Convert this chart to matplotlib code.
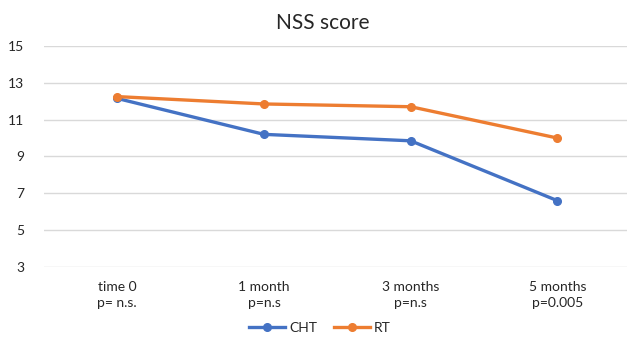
import matplotlib.pyplot as plt

# NSS score over follow-up, two treatment arms
timepoints = ['time 0\np= n.s.', '1 month\np=n.s', '3 months\np=n.s', '5 months\np=0.005']
cht = [12.15, 10.2, 9.85, 6.6]
rt = [12.25, 11.85, 11.7, 10.0]
yticks = [3, 5, 7, 9, 11, 13, 15]

blue = '#4472C4'
orange = '#ED7D31'
text_color = '#262626'

plt.rcParams['font.family'] = ['Lato', 'DejaVu Sans']

fig = plt.figure(figsize=(6.27, 3.52), dpi=100)
ax = fig.add_axes([0.07, 0.2415, 0.936, 0.628])

x = range(len(timepoints))
ax.plot(x, cht, color=blue, lw=2.4, marker='o', ms=5.5, label='CHT', zorder=3)
ax.plot(x, rt, color=orange, lw=2.4, marker='o', ms=5.5, label='RT', zorder=3)

ax.set_xlim(-0.5, len(timepoints) - 0.5)
ax.set_ylim(3, 15)
ax.set_yticks(yticks)
ax.set_xticks(list(x))
ax.set_xticklabels(timepoints, fontsize=10, color=text_color, linespacing=1.45)
ax.tick_params(axis='y', labelsize=10, labelcolor=text_color, length=0, pad=14)
ax.tick_params(axis='x', length=0, pad=10)
ax.grid(axis='y', color='#D9D9D9', lw=1)
ax.set_axisbelow(True)
for s in ax.spines.values():
    s.set_visible(False)

fig.text(0.514, 0.935, 'NSS score', ha='center', va='center', fontsize=15, color=text_color)

fig.legend(loc='center', bbox_to_anchor=(0.51, 0.068), ncol=2, frameon=False,
           fontsize=10, handlelength=2.6, columnspacing=1.2, handletextpad=0.3,
           labelcolor=text_color)

fig.savefig('out.png', dpi=100)
